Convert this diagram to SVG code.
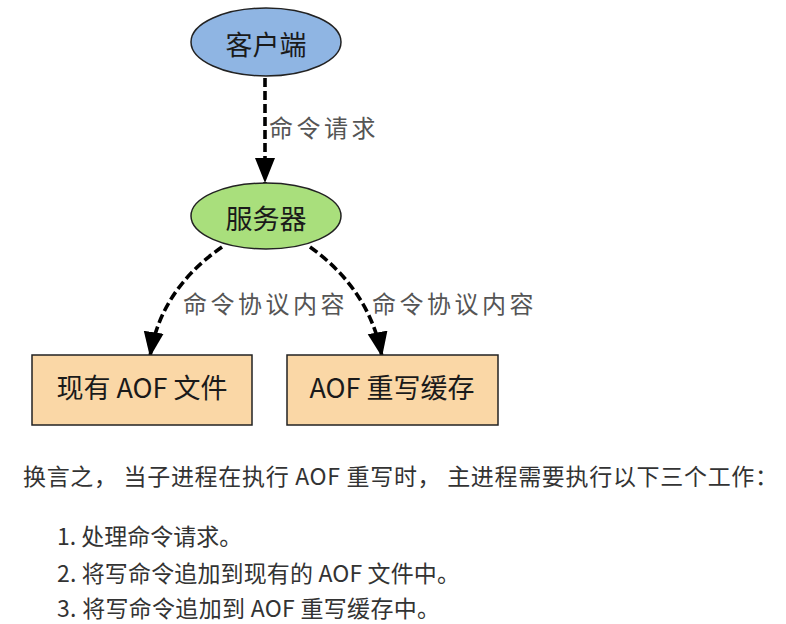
<svg xmlns="http://www.w3.org/2000/svg" width="786" height="624" viewBox="0 0 786 624">
<defs>
<marker id="arr" markerUnits="userSpaceOnUse" markerWidth="26" markerHeight="22" viewBox="0 0 26 22" refX="25" refY="11" orient="auto">
<path d="M0,1 L25,11 L0,21 Z" fill="#000"/>
</marker>
</defs>
<style>
text{font-family:"Noto Sans CJK SC","Microsoft YaHei","Noto Sans",sans-serif}
.node{stroke:#222;stroke-width:1.5}
.nt{font-size:27px;fill:#1a1a1a;text-anchor:middle;dominant-baseline:central}
.edge{fill:none;stroke:#000;stroke-width:3.6;stroke-dasharray:9 4}
.el{font-size:24px;fill:#555;letter-spacing:3.5px;dominant-baseline:central}
.body{font-size:23px;fill:#333;dominant-baseline:central}
</style>
<rect width="786" height="624" fill="#fff"/>
<g id="connectors">
<path class="edge" d="M265,78 L265,183" marker-end="url(#arr)"/>
<path class="edge" d="M222,247 Q160,290 150,357" marker-end="url(#arr)"/>
<path class="edge" d="M310,247 Q370,290 382,357" marker-end="url(#arr)"/>
<text class="el" x="269" y="126">命令请求</text>
<text class="el" x="183" y="302">命令协议内容</text>
<text class="el" x="372" y="302">命令协议内容</text>
</g>
<g id="client">
<ellipse class="node" cx="266" cy="42" rx="75" ry="34" fill="#8fb5e3"/>
<text class="nt" x="266" y="43">客户端</text>
</g>
<g id="server">
<ellipse class="node" cx="266" cy="216" rx="75" ry="33" fill="#a9df7c"/>
<text class="nt" x="266" y="217">服务器</text>
</g>
<g id="aof-file">
<rect class="node" x="32" y="355" width="220" height="70" fill="#fad7a6"/>
<text class="nt" x="142" y="386">现有 AOF 文件</text>
</g>
<g id="aof-buffer">
<rect class="node" x="287" y="355" width="211" height="70" fill="#fad7a6"/>
<text class="nt" x="392" y="386">AOF 重写缓存</text>
</g>
<g id="notes">
<text class="body" x="23" y="475" textLength="755" lengthAdjust="spacing">换言之， 当子进程在执行 AOF 重写时， 主进程需要执行以下三个工作：</text>
<text class="body" x="57" y="535">1. 处理命令请求。</text>
<text class="body" x="57" y="572" textLength="403" lengthAdjust="spacing">2. 将写命令追加到现有的 AOF 文件中。</text>
<text class="body" x="57" y="607" textLength="383" lengthAdjust="spacing">3. 将写命令追加到 AOF 重写缓存中。</text>
</g>
</svg>
